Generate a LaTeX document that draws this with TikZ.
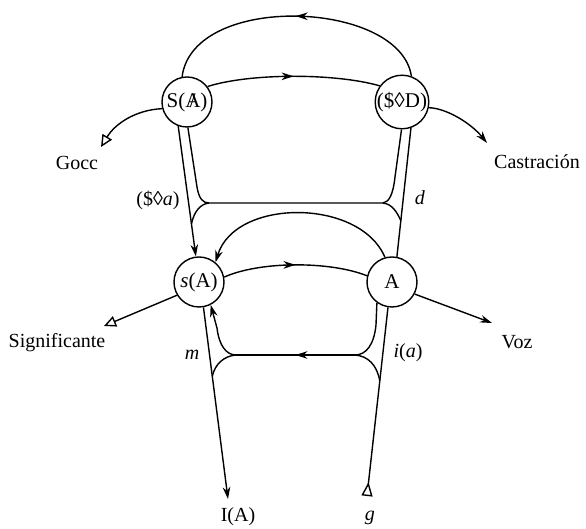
\documentclass[tikz,border=0pt]{standalone}
\usepackage{fontspec}
\setmainfont{Liberation Serif}
\usetikzlibrary{arrows.meta,decorations.markings,calc}
\newcommand\barredA{\ooalign{A\cr\hidewidth/\hidewidth}}
\begin{document}
\begin{tikzpicture}[x=0.5pt,y=-0.5pt,
  line width=0.7pt,
  place/.style={circle,draw,minimum size=25pt,inner sep=0pt,font=\fontsize{10.5}{12}\selectfont},
  lbl/.style={font=\fontsize{10}{12}\selectfont,inner sep=0pt},
  tip/.style={-{Stealth[length=6pt,width=3.8pt]}},
  opentip/.style={-{Triangle[open,length=6pt,width=5.5pt]}},
  opentail/.style={{Triangle[open,reversed,length=7pt,width=5.5pt]}-},
  midarrow/.style={postaction={decorate},decoration={markings,mark=at position #1 with {\arrow{Stealth[length=6pt,width=3.8pt]}}}},
  midarrow/.default=0.5]
\useasboundingbox (0,0) rectangle (586,529);

\node[place] (SA) at (187,102) {S(\barredA)};
\node[place] (SD) at (402,102) {(\$◊D)};
\node[place] (sA) at (199,282) {\textit{s}(A)};
\node[place] (A) at (392,282) {A};

\coordinate (gocc) at (101,147);
\coordinate (castr) at (487,143);
\coordinate (sig) at (104,326);
\coordinate (voz) at (492,323);
\coordinate (IAend) at (228,499);
\coordinate (gend) at (367,496);

% upper level
\draw[midarrow] (SD.70) .. controls (400,0) and (193,-8) .. (SA.101);
\draw[midarrow] (SA.37) .. controls (250,73) and (335,73) .. (SD.144);
\draw[opentip] (SA.195) .. controls (135,110) and (115,124) .. (gocc);
\draw[tip] (SD.-12) .. controls (445,108) and (470,122) .. (castr);

% verticals between levels
\draw[tip] (SA.-110) -- (sA.97);
\draw (SD.-71) -- (A.79);
\draw (SA.-88) -- (197,187) .. controls (199,199) and (203,203) .. (209,203)
  -- (383,203) .. controls (389,202) and (393,195) .. (395,177) -- (SD.-91);
\draw (209,203) .. controls (200,204) and (194,212) .. ($(SA.-110)!0.75!(sA.97)$);
\draw (383,203) .. controls (392,204) and (397,212) .. ($(SD.-71)!0.72!(A.79)$);

% lower level
\draw[tip] (A.106) .. controls (360,198) and (235,198) .. (sA.50);
\draw[midarrow] (sA.11) .. controls (260,261) and (330,261) .. (A.166);
\draw[opentip] (sA.211) -- (sig);
\draw[tip] (A.-28) -- (voz);

% bottom
\draw[tip] (sA.-80) -- (IAend);
\draw[opentail] (gend) -- (A.-99);
\draw (A.-126) -- (376,325) .. controls (374,345) and (366,355) .. (355,355);
\draw[midarrow] (355,355) -- (236,355);
\draw[tip] (236,355) .. controls (226,355) and (219,345) .. (217,328) -- (sA.-63);
\draw (236,355) .. controls (224,356) and (215,364) .. ($(sA.-80)!0.36!(IAend)$);
\draw (355,355) .. controls (368,356) and (377,365) .. ($(gend)!0.61!(A.-99)$);

% labels
\node[lbl] (lgocc) at (77,163) {Gocc};
\node[lbl] (lcastr) at (537,162) {Castración};
\node[lbl] (lsa) at (158,200) {(\$◊\textit{a})};
\node[lbl] (ld) at (420,198) {\textit{d}};
\node[lbl] (lsig) at (57,343) {Significante};
\node[lbl] (lvoz) at (517,342) {Voz};
\node[lbl] (lm) at (192,355) {\textit{m}};
\node[lbl] (lia) at (408,353) {\textit{i}(\textit{a})};
\node[lbl] (lIA) at (238,517) {I(A)};
\node[lbl] (lg) at (370,518) {\textit{g}};
\end{tikzpicture}
\end{document}
